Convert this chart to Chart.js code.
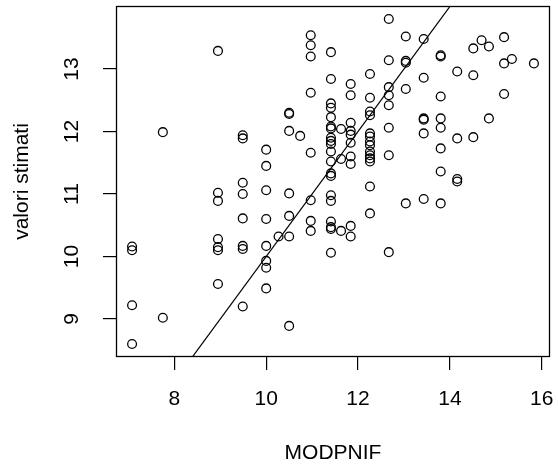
<!DOCTYPE html>
<html>
<head>
<meta charset="utf-8">
<script src="https://cdn.jsdelivr.net/npm/chart.js@4.4.1/dist/chart.umd.min.js"></script>
<style>
  html, body { margin: 0; padding: 0; background: #ffffff; }
  #wrap { width: 558px; height: 468px; }
  canvas { display: block; }
</style>
</head>
<body>
<div id="wrap"><canvas id="chart" width="558" height="468"></canvas></div>
<script>
// Observed MODPNIF values and the fitted ("stimati") values, paired by index.
const modpnif = [
  7.08, 7.08, 7.08, 7.08,
  7.75, 7.75,
  8.95, 8.95, 8.95, 8.95, 8.95, 8.95, 8.95,
  9.49, 9.49, 9.49, 9.49, 9.49, 9.49, 9.49, 9.49,
  10.00, 10.00, 10.00, 10.00, 10.00, 10.00, 10.00, 10.00,
  10.27,
  10.50, 10.50, 10.50, 10.50, 10.50, 10.50, 10.50,
  10.74,
  10.97, 10.97, 10.97, 10.97, 10.97, 10.97, 10.97, 10.97,
  11.41, 11.41, 11.41, 11.41, 11.41, 11.41, 11.41, 11.41, 11.41, 11.41,
  11.41, 11.41, 11.41, 11.41, 11.41, 11.41, 11.41, 11.41, 11.41, 11.41,
  11.63, 11.63, 11.63,
  11.84, 11.84, 11.84, 11.84, 11.84, 11.84, 11.84, 11.84, 11.84, 11.84,
  12.26, 12.26, 12.26, 12.26, 12.26, 12.26, 12.26, 12.26, 12.26, 12.26, 12.26, 12.26, 12.26, 12.26,
  12.67, 12.67, 12.67, 12.67, 12.67, 12.67, 12.67, 12.67,
  13.04, 13.04, 13.04, 13.04, 13.04,
  13.43, 13.43, 13.43, 13.43, 13.43, 13.43,
  13.80, 13.80, 13.80, 13.80, 13.80, 13.80, 13.80, 13.80,
  14.16, 14.16, 14.16, 14.16,
  14.51, 14.51, 14.51,
  14.69,
  14.85, 14.85,
  15.18, 15.18, 15.18,
  15.35,
  15.83
];
const valoriStimati = [
  10.16, 10.10, 9.22, 8.60,
  11.99, 9.02,
  13.29, 11.02, 10.89, 10.28, 10.15, 10.10, 9.56,
  11.94, 11.89, 11.18, 11.00, 10.61, 10.17, 10.12, 9.20,
  11.71, 11.45, 11.06, 10.60, 10.17, 9.93, 9.82, 9.49,
  10.32,
  12.30, 12.28, 12.01, 11.01, 10.65, 10.32, 8.89,
  11.93,
  13.54, 13.38, 13.20, 12.62, 11.66, 10.90, 10.57, 10.41,
  13.27, 12.84, 12.45, 12.38, 12.23, 12.08, 12.05, 11.90, 11.85, 11.80,
  11.68, 11.52, 11.33, 11.29, 10.98, 10.89, 10.56, 10.47, 10.44, 10.06,
  12.04, 11.56, 10.41,
  12.76, 12.58, 12.14, 12.01, 11.95, 11.82, 11.60, 11.48, 10.49, 10.32,
  12.92, 12.54, 12.32, 12.26, 11.97, 11.92, 11.84, 11.78, 11.68, 11.62, 11.57, 11.52, 11.12, 10.69,
  13.80, 13.14, 12.71, 12.58, 12.42, 12.06, 11.62, 10.07,
  13.52, 13.13, 13.10, 12.68, 10.85,
  13.48, 12.86, 12.21, 12.19, 11.97, 10.92,
  13.22, 13.20, 12.56, 12.21, 12.06, 11.73, 11.36, 10.85,
  12.96, 11.89, 11.24, 11.20,
  13.33, 12.90, 11.91,
  13.46,
  13.36, 12.21,
  13.51, 13.09, 12.60,
  13.16,
  13.09
];

// Axis tick values
const xTicks = [8, 10, 12, 14, 16];
const yTicks = [9, 10, 11, 12, 13];

// Reference line y = a + b*x
const lineIntercept = 0;
const lineSlope = 1;

// Axis limits: data range widened by 4% on each side
function extendRange(values) {
  const lo = Math.min(...values), hi = Math.max(...values);
  const d = (hi - lo) * 0.04;
  return [lo - d, hi + d];
}
const [xMin, xMax] = extendRange(modpnif);
const [yMin, yMax] = extendRange(valoriStimati);

const points = modpnif.map((x, i) => ({ x: x, y: valoriStimati[i] }));
const refLine = [xMin, xMax].map(x => ({ x: x, y: lineIntercept + lineSlope * x }));

const FONT = { family: "'Liberation Sans', Arial, Helvetica, sans-serif", size: 21 };

// Frame drawn around the plotting region
const plotBox = {
  id: 'plotBox',
  afterDatasetsDraw(chart) {
    const { ctx, chartArea: a } = chart;
    const L = Math.round(a.left), T = Math.round(a.top);
    const R = Math.round(a.right), B = Math.round(a.bottom);
    ctx.save();
    ctx.strokeStyle = '#000000';
    ctx.lineWidth = 1.3;
    ctx.strokeRect(L + 0.5, T + 0.5, R - L - 1, B - T - 1);
    ctx.restore();
  }
};

// Fixed axis sizes, no extra room reserved for overhanging end labels
function fitX(s) {
  s.height = 111;
  s.paddingLeft = 0; s.paddingRight = 0; s.paddingTop = 0; s.paddingBottom = 0;
}
function fitY(s) {
  s.width = 116;
  s.paddingLeft = 0; s.paddingRight = 0; s.paddingTop = 0; s.paddingBottom = 0;
}

new Chart(document.getElementById('chart'), {
  type: 'scatter',
  data: {
    datasets: [
      {
        type: 'line',
        data: refLine,
        borderColor: '#000000',
        borderWidth: 1.2,
        pointRadius: 0,
        fill: false,
        tension: 0,
        clip: 0
      },
      {
        data: points,
        pointStyle: 'circle',
        pointRadius: 4.4,
        borderWidth: 1.3,
        borderColor: '#000000',
        backgroundColor: 'rgba(0,0,0,0)',
        clip: false
      }
    ]
  },
  options: {
    responsive: false,
    animation: false,
    devicePixelRatio: 1,
    events: [],
    layout: { padding: { top: 6, right: 8, left: 0, bottom: 0 } },
    plugins: { legend: { display: false }, tooltip: { enabled: false } },
    scales: {
      x: {
        type: 'linear',
        min: xMin,
        max: xMax,
        afterBuildTicks: s => { s.ticks = xTicks.map(v => ({ value: v })); },
        afterFit: fitX,
        grid: { display: true, drawOnChartArea: false, drawTicks: true, tickLength: 13, color: '#000000', lineWidth: 1.2 },
        border: { display: false },
        ticks: { color: '#000000', font: FONT, padding: 17, maxRotation: 0, autoSkip: false, callback: v => String(v) },
        title: { display: true, text: 'MODPNIF', color: '#000000', font: FONT, padding: { top: 0, bottom: 2 } }
      },
      y: {
        type: 'linear',
        min: yMin,
        max: yMax,
        afterBuildTicks: s => { s.ticks = yTicks.map(v => ({ value: v })); },
        afterFit: fitY,
        grid: { display: true, drawOnChartArea: false, drawTicks: true, tickLength: 13, color: '#000000', lineWidth: 1.2 },
        border: { display: false },
        ticks: { color: '#000000', font: FONT, padding: 19, minRotation: 90, maxRotation: 90, crossAlign: 'center', autoSkip: false, callback: v => String(v) },
        title: { display: true, text: 'valori stimati', color: '#000000', font: FONT, padding: { top: 10, bottom: 0 } }
      }
    }
  },
  plugins: [plotBox]
});
</script>
</body>
</html>
